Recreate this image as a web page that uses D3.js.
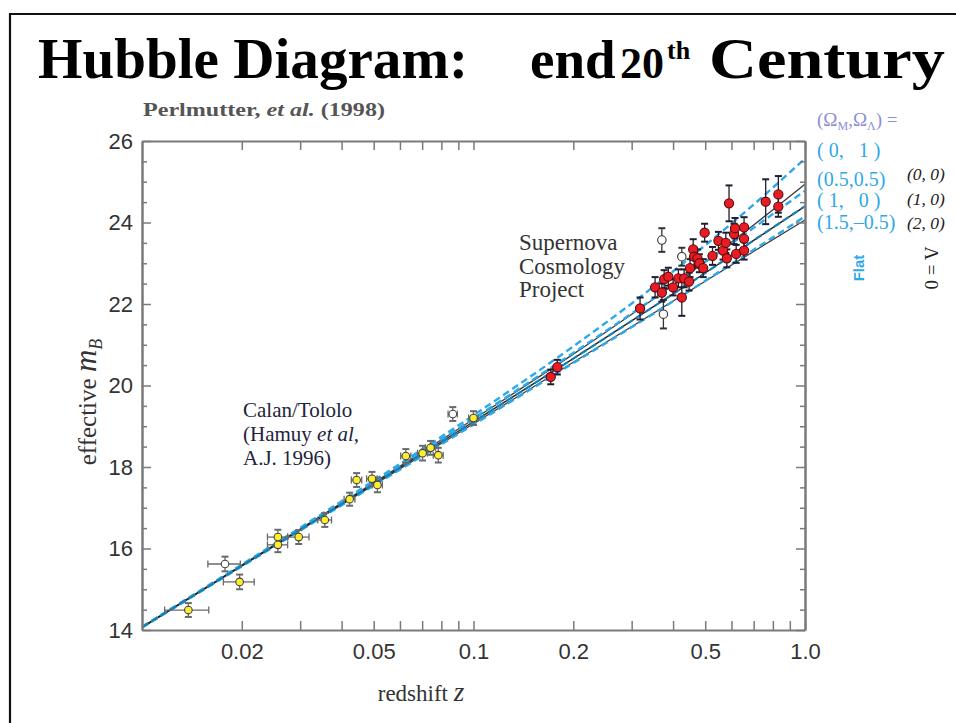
<!DOCTYPE html>
<html><head><meta charset="utf-8">
<script src="https://cdn.jsdelivr.net/npm/d3@7"></script>
<style>body{margin:0;background:#fff}svg{display:block}</style>
</head><body>
<svg id="c" width="956" height="723"></svg>
<script>
// ---- data ----
const xTickValues = [0.02,0.03,0.04,0.05,0.06,0.07,0.08,0.09,0.1,0.2,0.3,0.4,0.5,0.6,0.7,0.8,0.9,1.0];
const xTickLabels = {0.02:"0.02",0.05:"0.05",0.1:"0.1",0.2:"0.2",0.5:"0.5",1:"1.0"};
const yMajorTicks = [14,16,18,20,22,24,26];
const yMinorTicks = [14.5,15,15.5,16.5,17,17.5,18.5,19,19.5,20.5,21,21.5,22.5,23,23.5,24.5,25,25.5];

// Calan/Tololo supernovae (yellow)
const calanZ  = [0.0138,0.0197,0.0257,0.0257,0.0297,0.0356,0.0423,0.0444,0.0494,0.0513,0.0625,0.0702,0.0742,0.0783,0.100];
const calanM  = [14.49,15.18,16.28,16.09,16.28,16.70,17.21,17.68,17.71,17.56,18.27,18.34,18.47,18.29,19.20];
const calanDM = [0.17,0.18,0.18,0.18,0.17,0.17,0.16,0.17,0.17,0.18,0.17,0.18,0.17,0.18,0.17];
const calanDZ = [0.0021,0.0021,0.0018,0.0018,0.0022,0.0017,0.0016,0.0016,0.0018,0.0018,0.0022,0.0024,0.0026,0.0027,0.0033];
// excluded low-z (open)
const calanOpenZ  = [0.0178,0.0866];
const calanOpenM  = [15.62,19.30];
const calanOpenDM = [0.18,0.17];
const calanOpenDZ = [0.0020,0.0028];

// Supernova Cosmology Project (red)
const scpZ  = [0.171,0.179,0.318,0.353,0.370,0.376,0.387,0.400,0.415,0.425,0.432,0.447,0.450,0.460,0.463,0.474,0.480,0.493,0.498,0.526,0.548,0.566,0.577,0.581,0.590,0.611,0.615,0.620,0.655,0.655,0.655,0.761,0.831,0.831];
const scpM  = [20.21,20.45,21.89,22.41,22.28,22.61,22.67,22.41,22.63,22.16,22.63,22.55,22.88,23.34,23.16,23.12,23.00,22.88,23.75,23.18,23.55,23.31,23.50,23.12,24.47,23.72,23.86,23.23,23.88,23.60,23.31,24.51,24.69,24.39];
const scpDM = [0.18,0.18,0.27,0.25,0.22,0.22,0.22,0.20,0.22,0.45,0.22,0.22,0.22,0.25,0.22,0.22,0.22,0.22,0.22,0.22,0.22,0.22,0.25,0.22,0.44,0.25,0.25,0.22,0.25,0.22,0.22,0.55,0.45,0.25];
// excluded high-z (open)
const scpOpenZ  = [0.370,0.374,0.425];
const scpOpenM  = [23.57,21.75,23.16];
const scpOpenDM = [0.29,0.35,0.22];

// model curves (Omega_M, Omega_Lambda)
const modelZ   = [0.01,0.03,0.1,0.2,0.35,0.5,0.7,1.0];
const mod_0_0  = [14.07,16.48,19.17,20.77,22.13,23.04,23.94,24.94];
const mod_1_0  = [14.07,16.46,19.11,20.66,21.94,22.76,23.56,24.40];
const mod_2_0  = [14.06,16.45,19.06,20.57,21.78,22.56,23.29,24.06];
const mod_0_1  = [14.08,16.51,19.27,20.96,22.43,23.44,24.44,25.57];
const mod_05_05= [14.07,16.49,19.19,20.80,22.14,23.03,23.87,24.78];
const mod_15_m05=[14.06,16.44,19.04,20.55,21.77,22.57,23.33,24.15];

// ---- drawing ----
const svg = d3.select("#c");
const X0=142, X1=805, Y0=141, Y1=630;
const xs = d3.scaleLog().domain([0.01,1]).range([X0,X1]);
const ys = d3.scaleLinear().domain([14,26]).range([Y1,Y0]);

// slide frame
svg.append("path").attr("d","M10,723 L10,14 L956,14").attr("fill","none").attr("stroke","#111").attr("stroke-width",2.2);

// title
const tf = "'Liberation Serif', 'DejaVu Serif', serif";
svg.append("text").attr("x",38).attr("y",78).attr("font-family",tf).attr("font-weight","bold")
  .attr("font-size",57).attr("fill","#000").attr("textLength",430).attr("lengthAdjust","spacingAndGlyphs").text("Hubble Diagram:");
const t2 = svg.append("text").attr("y",78).attr("font-family",tf).attr("font-weight","bold").attr("font-size",55).attr("fill","#000");
t2.append("tspan").attr("x",530).text("end");
t2.append("tspan").attr("x",620).attr("font-size",44).text("20");
t2.append("tspan").attr("x",667).attr("dy",-19).attr("font-size",26).text("th");
t2.append("tspan").attr("x",709).attr("dy",19).attr("font-size",57).attr("textLength",236).attr("lengthAdjust","spacingAndGlyphs").text("Century");

// Perlmutter credit
const pc = svg.append("text").attr("x",143).attr("y",116).attr("font-family",tf).attr("font-weight","bold")
  .attr("font-size",18).attr("fill","#555").attr("textLength",242).attr("lengthAdjust","spacingAndGlyphs");
pc.append("tspan").text("Perlmutter, ");
pc.append("tspan").attr("font-style","italic").text("et al.");
pc.append("tspan").text(" (1998)");

// clip
svg.append("clipPath").attr("id","clip").append("rect").attr("x",X0).attr("y",Y0).attr("width",X1-X0).attr("height",Y1-Y0);
const plot = svg.append("g").attr("clip-path","url(#clip)");

const line = d3.line().x(d=>xs(d[0])).y(d=>ys(d[1])).curve(d3.curveMonotoneX);
const pts = arr => modelZ.map((z,i)=>[z,arr[i]]);
const blue = "#2fa8e8";
[mod_0_0, mod_2_0].forEach(a=>{
  plot.append("path").attr("d",line(pts(a))).attr("fill","none").attr("stroke","#3a3a3a").attr("stroke-width",1.3);
});
plot.append("path").attr("d",line(pts(mod_1_0))).attr("fill","none").attr("stroke","#222").attr("stroke-width",1.4);
[mod_0_1, mod_05_05, mod_15_m05].forEach(a=>{
  plot.append("path").attr("d",line(pts(a))).attr("fill","none").attr("stroke",blue).attr("stroke-width",2.4).attr("stroke-dasharray","7,4");
});
plot.append("path").attr("d",line(pts(mod_1_0))).attr("fill","none").attr("stroke","#1b7fae").attr("stroke-width",2.2).attr("stroke-dasharray","7,4");

function errBars(Z,M,DM,DZ,color){
  const g = plot.append("g").attr("stroke",color).attr("stroke-width",1.3).attr("fill","none");
  Z.forEach((z,i)=>{
    const cx=xs(z), cy=ys(M[i]), yt=ys(M[i]+DM[i]), yb=ys(M[i]-DM[i]);
    g.append("line").attr("x1",cx).attr("x2",cx).attr("y1",yt).attr("y2",yb);
    g.append("line").attr("x1",cx-3.5).attr("x2",cx+3.5).attr("y1",yt).attr("y2",yt).attr("stroke-width",2);
    g.append("line").attr("x1",cx-3.5).attr("x2",cx+3.5).attr("y1",yb).attr("y2",yb).attr("stroke-width",2);
    if(DZ){
      const xl=xs(z-DZ[i]), xr=xs(z+DZ[i]);
      g.append("line").attr("x1",xl).attr("x2",xr).attr("y1",cy).attr("y2",cy);
      g.append("line").attr("x1",xl).attr("x2",xl).attr("y1",cy-3.5).attr("y2",cy+3.5);
      g.append("line").attr("x1",xr).attr("x2",xr).attr("y1",cy-3.5).attr("y2",cy+3.5);
    }
  });
}
errBars(calanZ,calanM,calanDM,calanDZ,"#6a6a6a");
errBars(calanOpenZ,calanOpenM,calanOpenDM,calanOpenDZ,"#6a6a6a");
errBars(scpOpenZ,scpOpenM,scpOpenDM,null,"#333");
errBars(scpZ,scpM,scpDM,null,"#1e1e30");

function dots(Z,M,r,fill,stroke){
  plot.append("g").selectAll("circle").data(Z).join("circle")
    .attr("cx",d=>xs(d)).attr("cy",(d,i)=>ys(M[i])).attr("r",r)
    .attr("fill",fill).attr("stroke",stroke).attr("stroke-width",1.1);
}
dots(calanOpenZ,calanOpenM,3.8,"#fff","#444");
dots(calanZ,calanM,3.8,"#ffee2e","#444");
dots(scpOpenZ,scpOpenM,4.2,"#fff","#333");
dots(scpZ,scpM,4.6,"#e81c24","#5a0a0a");

// axes
const axCol = "#7a7a7a";
const axBottom = svg.append("g").attr("transform",`translate(0,${Y1})`)
  .call(d3.axisBottom(xs).tickValues(xTickValues).tickSizeInner(-9).tickSizeOuter(0).tickPadding(13)
    .tickFormat(d=>xTickLabels[d]||""));
const axTop = svg.append("g").attr("transform",`translate(0,${Y0})`)
  .call(d3.axisTop(xs).tickValues(xTickValues).tickSizeInner(-9).tickSizeOuter(0).tickFormat(""));
const axLeft = svg.append("g").attr("transform",`translate(${X0},0)`)
  .call(d3.axisLeft(ys).tickValues(yMajorTicks).tickSizeInner(-9).tickSizeOuter(0).tickPadding(9).tickFormat(d3.format("d")));
const axLeftMinor = svg.append("g").attr("transform",`translate(${X0},0)`)
  .call(d3.axisLeft(ys).tickValues(yMinorTicks).tickSizeInner(-5).tickSizeOuter(0).tickFormat(""));
const axRight = svg.append("g").attr("transform",`translate(${X1},0)`)
  .call(d3.axisRight(ys).tickValues(yMajorTicks).tickSizeInner(-9).tickSizeOuter(0).tickFormat(""));
const axRightMinor = svg.append("g").attr("transform",`translate(${X1},0)`)
  .call(d3.axisRight(ys).tickValues(yMinorTicks).tickSizeInner(-5).tickSizeOuter(0).tickFormat(""));
[axBottom,axTop,axLeft,axLeftMinor,axRight,axRightMinor].forEach(g=>{
  g.selectAll("path.domain").attr("stroke",axCol).attr("stroke-width",2);
  g.selectAll(".tick line").attr("stroke",axCol).attr("stroke-width",1.5);
  g.selectAll("text").attr("font-family","'Liberation Sans', Arial, sans-serif").attr("font-size",22).attr("fill","#333");
});

// axis titles
const yl = svg.append("text").attr("transform","translate(96,402) rotate(-90)").attr("text-anchor","middle")
  .attr("font-family",tf).attr("font-size",25).attr("fill","#333");
yl.append("tspan").text("effective  ");
yl.append("tspan").attr("font-style","italic").attr("font-size",31).text("m");
yl.append("tspan").attr("font-style","italic").attr("font-size",18).attr("dy",6).text("B");

const xl = svg.append("text").attr("x",421).attr("y",701).attr("text-anchor","middle")
  .attr("font-family",tf).attr("font-size",23).attr("fill","#333");
xl.append("tspan").text("redshift  ");
xl.append("tspan").attr("font-style","italic").attr("font-size",27).text("z");

// annotations
function lines(arr,x0,y0,dy,size,color){
  arr.forEach((parts,i)=>{
    const t = svg.append("text").attr("x",x0).attr("y",y0+i*dy).attr("font-family",tf).attr("font-size",size).attr("fill",color);
    parts.forEach(p=>t.append("tspan").attr("font-style",p[1]?"italic":null).text(p[0]));
  });
}
lines([[["Supernova"]],[["Cosmology"]],[["Project"]]],519,250,23.5,23,"#333");
lines([[["Calan/Tololo"]],[["(Hamuy "],["et al",1],[","]],[["A.J. 1996)"]]],243,417,24,21,"#23233a");

// legend
const lg = svg.append("text").attr("x",817).attr("y",126).attr("font-family",tf).attr("font-size",19).attr("fill","#8e8ed8");
lg.append("tspan").text("(Ω");
lg.append("tspan").attr("font-size",12).attr("dy",4).text("M");
lg.append("tspan").attr("dy",-4).text(",Ω");
lg.append("tspan").attr("font-size",12).attr("dy",4).text("Λ");
lg.append("tspan").attr("dy",-4).text(") =");

const legBlue = [["( 0,   1 )",157],["(0.5,0.5)",186],["( 1,   0 )",207],["(1.5,–0.5)",229]];
legBlue.forEach(d=>svg.append("text").attr("x",817).attr("y",d[1]).attr("font-family",tf).attr("font-size",20)
  .attr("fill",blue).style("white-space","pre").text(d[0]));
const legBlack = [["(0, 0)",180],["(1, 0)",205],["(2, 0)",229]];
legBlack.forEach(d=>svg.append("text").attr("x",907).attr("y",d[1]).attr("font-family",tf).attr("font-size",17.5)
  .attr("font-style","italic").attr("fill","#222").text(d[0]));

svg.append("text").attr("transform","translate(864,268) rotate(-90)").attr("text-anchor","middle")
  .attr("font-family","'Liberation Sans', Arial, sans-serif").attr("font-weight","bold").attr("font-size",15).attr("fill",blue).text("Flat");
svg.append("text").attr("transform","translate(925,268) rotate(90)").attr("text-anchor","middle")
  .attr("font-family",tf).attr("font-size",19).attr("fill","#222").text("Λ = 0");
</script>
</body></html>
